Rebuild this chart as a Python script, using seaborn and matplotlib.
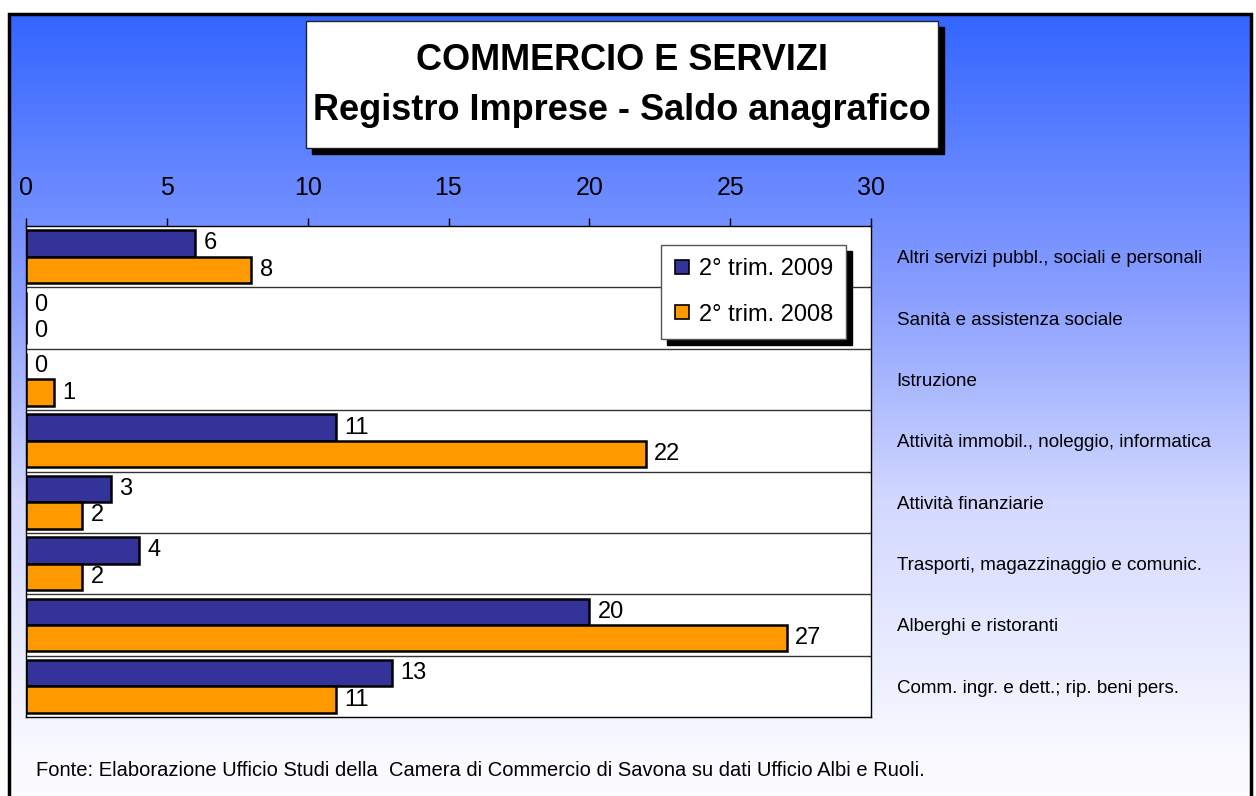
import numpy as np
import pandas as pd
import matplotlib
matplotlib.use("Agg")
import matplotlib.pyplot as plt
import seaborn as sns
from matplotlib.patches import Rectangle
from matplotlib.lines import Line2D
from matplotlib.colors import LinearSegmentedColormap

categories = [
    "Altri servizi pubbl., sociali e personali",
    "Sanità e assistenza sociale",
    "Istruzione",
    "Attività immobil., noleggio, informatica",
    "Attività finanziarie",
    "Trasporti, magazzinaggio e comunic.",
    "Alberghi e ristoranti",
    "Comm. ingr. e dett.; rip. beni pers.",
]
series_names = ["2° trim. 2009", "2° trim. 2008"]
values_2009 = [6, 0, 0, 11, 3, 4, 20, 13]
values_2008 = [8, 0, 1, 22, 2, 2, 27, 11]
x_ticks = [0, 5, 10, 15, 20, 25, 30]
title_lines = ["COMMERCIO E SERVIZI", "Registro Imprese - Saldo anagrafico"]
footer = "Fonte: Elaborazione Ufficio Studi della  Camera di Commercio di Savona su dati Ufficio Albi e Ruoli."

colors = ["#333399", "#FF9900"]

df = pd.DataFrame({
    "categoria": categories * 2,
    "valore": values_2009 + values_2008,
    "serie": [series_names[0]] * len(categories) + [series_names[1]] * len(categories),
})

sns.set_theme(style="white")
plt.rcParams["font.family"] = ["Liberation Sans", "DejaVu Sans"]
plt.rcParams["text.color"] = "black"
plt.rcParams["xtick.color"] = "black"
plt.rcParams["ytick.color"] = "black"
plt.rcParams["xtick.labelcolor"] = "black"
plt.rcParams["ytick.labelcolor"] = "black"

W, H = 1256, 796
fig = plt.figure(figsize=(W / 100, H / 100), dpi=100)

# background gradient
bg = fig.add_axes([0, 0, 1, 1], zorder=-10)
bg.set_axis_off()
stops = [(0.0, (51/255, 102/255, 255/255)),
         (14/796, (51/255, 102/255, 255/255)),
         (300/796, (140/255, 160/255, 255/255)),
         (500/796, (210/255, 216/255, 255/255)),
         (760/796, (250/255, 250/255, 255/255)),
         (1.0, (252/255, 252/255, 255/255))]
cmap = LinearSegmentedColormap.from_list("bgc", stops)
grad = np.linspace(0, 1, 400).reshape(-1, 1)
bg.imshow(grad, aspect="auto", cmap=cmap, extent=[0, 1, 1, 0])
bg.set_xlim(0, 1)
bg.set_ylim(1, 0)
# white margin and outer border
bg.add_patch(Rectangle((0, 0), 1, 13/796, color="white", zorder=2))
bg.add_patch(Rectangle((0, 0), 8/1256, 1, color="white", zorder=2))
bg.add_patch(Rectangle((1253/1256, 0), 1, 1, color="white", zorder=2))
bg.plot([9/1256, 9/1256, 1251/1256, 1251/1256], [1.0, 14/796, 14/796, 1.0],
        color="black", lw=2.5, zorder=3, solid_joinstyle="miter")

# title box
tx0, tx1, ty0, ty1 = 306/W, 938/W, 21/H, 148/H
bg.add_patch(Rectangle((tx0 + 6/W, ty0 + 6/H), tx1 - tx0, ty1 - ty0, color="black", zorder=4))
bg.add_patch(Rectangle((tx0, ty0), tx1 - tx0, ty1 - ty0, facecolor="white",
                       edgecolor="#222222", lw=1, zorder=5))
bg.text((tx0 + tx1) / 2, 61/H, title_lines[0], ha="center", va="center",
        fontsize=26, fontweight="bold", zorder=6, color="black")
bg.text((tx0 + tx1) / 2, 111/H, title_lines[1], ha="center", va="center",
        fontsize=26, fontweight="bold", zorder=6, color="black")
bg.text(36/W, 770/H, footer, ha="left", va="center", fontsize=14.5, zorder=6,
        color="black")

# main axes
ax = fig.add_axes([26/W, 1 - 717/H, (871 - 26)/W, (717 - 226)/H])
ax.set_facecolor("white")
sns.barplot(data=df, y="categoria", x="valore", hue="serie", orient="h",
            palette=colors, width=0.86, edgecolor="black", linewidth=1.8,
            ax=ax, legend=False, saturation=1)

for cont in ax.containers:
    ax.bar_label(cont, fmt="%g", padding=6, fontsize=17, color="black")

ax.set_xlim(0, 30)
ax.set_ylim(len(categories) - 0.5, -0.5)
ax.set_xticks(x_ticks)
ax.set_xticklabels([str(t) for t in x_ticks])
ax.xaxis.tick_top()
ax.tick_params(axis="x", direction="out", length=6, width=1, color="black",
               labelsize=18, pad=13, top=True, bottom=False, labelcolor="black")
ax.yaxis.tick_right()
ax.tick_params(axis="y", length=0, labelsize=13.5, pad=18.5, right=True, left=False,
               labelcolor="black")
ax.set_xlabel("")
ax.set_ylabel("")
for s in ax.spines.values():
    s.set_visible(True)
    s.set_color("black")
    s.set_linewidth(1)
for yy in np.arange(0.5, len(categories) - 0.5, 1):
    ax.axhline(yy, color="#333333", lw=1, zorder=0.5)
ax.grid(False)

# legend
handles = [Line2D([0], [0], marker="s", ls="", markersize=10,
                  markerfacecolor=c, markeredgecolor="black", markeredgewidth=1.2)
           for c in colors]
leg = ax.legend(handles, series_names, loc="upper left",
                bbox_to_anchor=((661 - 26)/845, (717 - 245)/491), borderaxespad=0,
                fontsize=17, frameon=True, fancybox=False, framealpha=1,
                labelspacing=1.0, handlelength=0.7, handletextpad=0.35,
                borderpad=0.55, labelcolor="black")
leg.get_frame().set_edgecolor("#555555")
leg.get_frame().set_linewidth(1)
leg.get_frame().set_facecolor("white")
leg.set_zorder(10)

fig.canvas.draw()
bb = leg.get_window_extent()
inv = fig.transFigure.inverted()
(x0f, y0f), (x1f, y1f) = inv.transform([[bb.x0, bb.y0], [bb.x1, bb.y1]])
shadow = Rectangle((x0f + 6/W, y0f - 6/H), x1f - x0f, y1f - y0f,
                   transform=fig.transFigure, color="black", zorder=9)
ax.add_artist(shadow)
shadow.set_clip_on(False)

fig.savefig("out.png", dpi=100)
